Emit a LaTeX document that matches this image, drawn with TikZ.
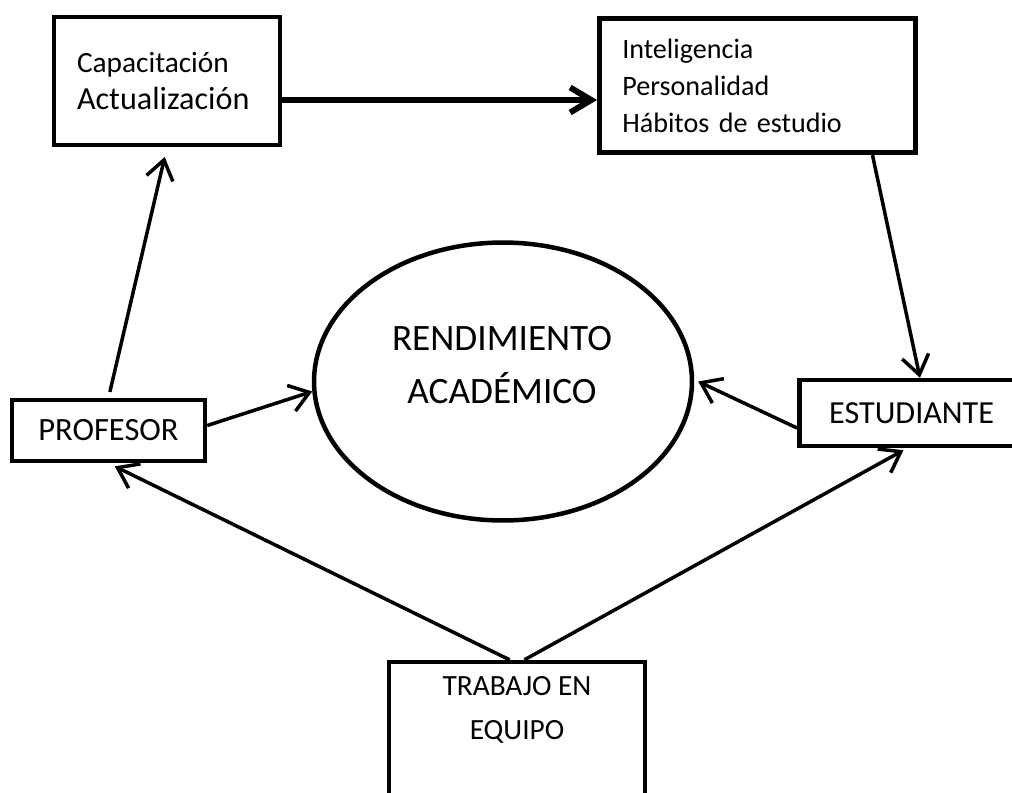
\documentclass[tikz,border=0pt]{standalone}
\usepackage{fontspec}
\setmainfont{Carlito}
\usetikzlibrary{arrows.meta,shapes.geometric}

\begin{document}
\begin{tikzpicture}[x=0.02cm, y=-0.02cm,
    caja/.style={draw, line width=0.09cm, inner sep=0pt},
    flecha/.style={-{Straight Barb[length=0.38cm,width=0.54cm]}, line width=0.07cm},
    flechagruesa/.style={-{Straight Barb[length=0.42cm,width=0.5cm]}, line width=0.12cm}]

    % --- Marco de la figura (en pixeles de la imagen) ---
    \useasboundingbox (0,0) rectangle (1012,792);

    % --- Cajas ---
    \node[caja, align=left, text width=3.6cm, inner xsep=0.46cm, minimum height=2.56cm,
        font=\fontsize{16.7}{21.6}\selectfont] (capa) at (167,81)
        {Capacitación\\{\fontsize{18.3}{21.6}\selectfont Actualización}};
    \node[caja, align=left, text width=5.41cm, inner xsep=0.46cm, minimum height=2.69cm,
        font=\fontsize{16}{21}\selectfont] (intel) at (757.5,85.5)
        {Inteligencia\\Personalidad\\Hábitos de estudio};
    \node[caja, minimum width=3.86cm, minimum height=1.22cm,
        font=\fontsize{18.5}{20}\selectfont] (prof) at (108.5,430.5) {PROFESOR};
    % la caja sigue fuera del borde derecho
    \node[caja, anchor=west, align=left, text width=4.4cm, inner xsep=0.6cm, minimum height=1.32cm,
        font=\fontsize{18.3}{20}\selectfont] (stud) at (797,413) {ESTUDIANTE};
    % la caja sigue fuera del borde inferior
    \node[caja, minimum width=5.12cm, minimum height=3.32cm] (equipo) at (517,745) {};
    \node[align=center, font=\fontsize{16.7}{25.5}\selectfont] (equipotxt) at (517,710)
        {TRABAJO EN\\EQUIPO};

    % --- Elipse central ---
    \node[ellipse, draw, line width=0.09cm, inner sep=0pt,
        minimum width=7.56cm, minimum height=5.56cm] (rend) at (503,381.5) {};
    \node[align=center, font=\fontsize{21.2}{30.6}\selectfont] (rendtxt) at (502,365)
        {RENDIMIENTO\\ACADÉMICO};

    % --- Flechas ---
    \draw[flechagruesa] ([yshift=-0.38cm]capa.east) -- ([yshift=-0.38cm]capa.east -| intel.west);

    \draw[flecha, shorten <=0.12cm, shorten >=0.2cm] (prof.north) -- (capa.south);
    \draw[flecha] ([yshift=0.1cm]prof.east) -- (rend.183);
    \draw[flecha] ([xshift=2.3cm]intel.south) -- ([xshift=2.46cm]stud.north west);
    \draw[flecha] ([yshift=-0.3cm]stud.west) -- ([xshift=0.08cm]rend.east);

    % desde el trabajo en equipo
    \draw[flecha, shorten >=0.14cm] ([xshift=-0.15cm]equipo.north) -- (prof.south);
    \draw[flecha, shorten >=0.08cm] ([xshift=0.15cm]equipo.north) -- ([xshift=2.2cm]stud.south west);

\end{tikzpicture}
\end{document}
